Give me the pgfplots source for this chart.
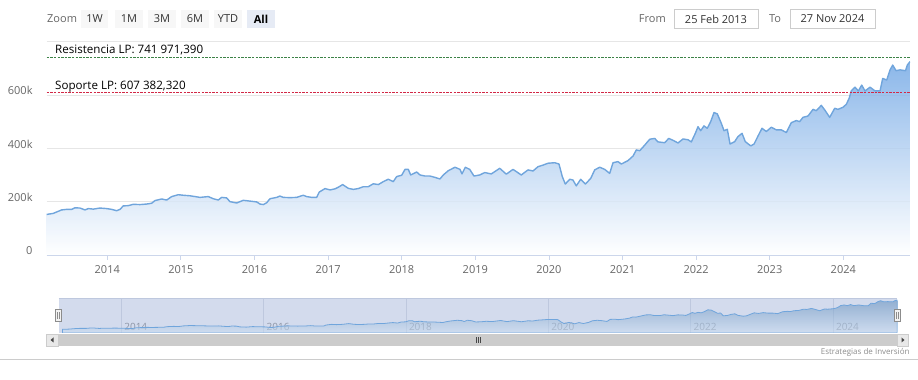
\documentclass[border=0pt]{standalone}
\usepackage{pgfplots}
\pgfplotsset{compat=1.18}
\usepackage{pgfplotstable}
\usepackage{fontspec}
\setmainfont{Open Sans}
\definecolor{linecol}{RGB}{112,165,220}
\definecolor{filltop}{RGB}{110,165,228}
\definecolor{fillbot}{RGB}{255,255,255}
\definecolor{gridc}{RGB}{230,230,230}
\definecolor{axisc}{RGB}{204,214,235}
\definecolor{labc}{RGB}{102,102,102}
\definecolor{txtc}{RGB}{51,51,51}
\definecolor{resc}{RGB}{60,130,70}
\definecolor{supc}{RGB}{210,40,70}
\definecolor{navbg}{RGB}{211,219,237}
\definecolor{navgrid}{RGB}{190,200,222}
\definecolor{navlab}{RGB}{140,148,165}
\definecolor{btn}{RGB}{247,247,247}
\definecolor{btnsel}{RGB}{230,235,245}
\definecolor{boxc}{RGB}{204,204,204}
\definecolor{trackc}{RGB}{242,242,242}
\definecolor{thumbc}{RGB}{204,204,204}
\definecolor{arrbtn}{RGB}{232,232,232}
\definecolor{arrc}{RGB}{70,70,70}
\definecolor{credc}{RGB}{140,140,140}
\pgfplotstableread{
x y
2013.177 152
2013.266 156
2013.380 169
2013.448 171
2013.516 171
2013.561 177
2013.629 176
2013.697 169
2013.742 174
2013.810 172
2013.901 176
2013.992 174
2014.060 171
2014.128 166
2014.173 171
2014.217 184
2014.285 185
2014.353 190
2014.444 189
2014.535 191
2014.603 194
2014.648 204
2014.739 210
2014.807 206
2014.875 219
2014.965 226
2015.033 224
2015.124 222
2015.192 219
2015.260 216
2015.372 219
2015.440 211
2015.508 206
2015.554 216
2015.622 214
2015.667 200
2015.758 195
2015.848 205
2015.939 202
2016.030 199
2016.075 191
2016.120 189
2016.166 196
2016.211 211
2016.302 216
2016.346 221
2016.391 216
2016.482 215
2016.573 216
2016.663 224
2016.709 219
2016.777 216
2016.845 216
2016.880 236
2016.958 249
2017.026 244
2017.094 248
2017.139 254
2017.198 264
2017.274 250
2017.342 246
2017.410 249
2017.478 256
2017.546 256
2017.614 267
2017.682 264
2017.750 275
2017.818 284
2017.886 275
2017.932 294
2018.000 299
2018.045 321
2018.090 321
2018.122 300
2018.204 311
2018.249 300
2018.317 296
2018.385 296
2018.452 291
2018.520 285
2018.565 300
2018.633 316
2018.724 329
2018.792 321
2018.819 304
2018.864 329
2018.924 321
2018.982 296
2019.060 300
2019.128 309
2019.217 304
2019.332 325
2019.421 303
2019.512 321
2019.625 300
2019.716 319
2019.784 315
2019.852 331
2019.920 337
2019.988 344
2020.079 346
2020.137 341
2020.182 294
2020.223 266
2020.283 284
2020.327 281
2020.372 259
2020.432 284
2020.495 266
2020.568 287
2020.622 319
2020.690 329
2020.758 321
2020.826 306
2020.871 346
2020.939 350
2020.984 341
2021.075 354
2021.143 371
2021.188 394
2021.234 391
2021.302 412
2021.370 434
2021.438 437
2021.482 424
2021.573 421
2021.628 437
2021.686 430
2021.754 420
2021.822 435
2021.890 432
2021.935 424
2021.989 456
2022.026 481
2022.062 466
2022.107 484
2022.152 475
2022.198 500
2022.243 534
2022.288 529
2022.342 494
2022.379 466
2022.424 471
2022.461 416
2022.524 425
2022.569 444
2022.624 456
2022.668 425
2022.742 409
2022.787 416
2022.841 446
2022.895 475
2022.954 463
2023.022 479
2023.090 469
2023.158 469
2023.226 459
2023.293 496
2023.361 504
2023.407 500
2023.452 516
2023.520 521
2023.588 546
2023.633 541
2023.701 561
2023.747 544
2023.815 516
2023.883 550
2023.928 546
2023.996 554
2024.041 565
2024.080 588
2024.109 616
2024.159 629
2024.204 615
2024.250 637
2024.295 615
2024.363 629
2024.431 615
2024.499 615
2024.535 662
2024.590 656
2024.635 694
2024.671 712
2024.716 691
2024.770 694
2024.845 691
2024.870 712
2024.906 725
}\data
\begin{document}
\begin{tikzpicture}[x=1pt,y=1pt]
\path[use as bounding box] (0,0) rectangle (918,380);
% ---------- range selector ----------
\begin{scope}[font=\fontsize{11}{13}\selectfont]
\node[anchor=west, text=labc, inner sep=0pt] at (47,361) {Zoom};
\foreach \a/\b/\t in {81/108/1W, 115/143/1M, 148/176/3M, 181/209/6M, 214/242/YTD} {
  \fill[btn] (\a,352) rectangle (\b,370);
  \node[text=txtc, inner sep=0pt] at ({(\a+\b)/2},361) {\t};
}
\fill[btnsel] (247,352) rectangle (275,370);
\node[text=black, inner sep=0pt, font=\fontsize{11}{13}\selectfont\bfseries] at (261,361) {All};
\node[anchor=east, text=labc, inner sep=0pt] at (666,361) {From};
\draw[boxc, fill=white, line width=0.8pt] (674,351.7) rectangle (758,370.7);
\node[text=txtc, inner sep=0pt] at (716,361) {25 Feb 2013};
\node[text=labc, inner sep=0pt] at (775,361) {To};
\draw[boxc, fill=white, line width=0.8pt] (790,351.7) rectangle (875,370.7);
\node[text=txtc, inner sep=0pt] at (832.5,361) {27 Nov 2024};
\end{scope}
% ---------- main chart ----------
\begin{axis}[
  at={(46.7pt,125pt)}, anchor=south west,
  scale only axis, width=863.3pt, height=215pt,
  xmin=2013.177, xmax=2024.906, ymin=0, ymax=806,
  axis lines*=left,
  x axis line style={draw=axisc, line width=0.8pt},
  y axis line style={draw=none},
  tick align=outside, major tick length=5pt,
  xtick={2014,2015,2016,2017,2018,2019,2020,2021,2022,2023,2024},
  xticklabels={2014,2015,2016,2017,2018,2019,2020,2021,2022,2023,2024},
  xtick style={draw=axisc, line width=0.8pt},
  xticklabel style={text=labc, font=\fontsize{11}{13}\selectfont, inner sep=0pt, yshift=-5pt},
  ytick={0,200,400,600,800},
  yticklabels={0,200k,400k,600k,{}},
  ytick style={draw=none},
  yticklabel style={text=labc, font=\fontsize{11}{13}\selectfont, anchor=east, inner sep=0pt, xshift=-9pt, yshift=4.4pt},
  ymajorgrids, grid style={gridc, line width=0.8pt},
]
\addplot[draw=none, top color=filltop, bottom color=fillbot, fill opacity=0.8, forget plot] table {\data} \closedcycle;
\addplot[draw=linecol, line width=1.4pt, line join=round] table {\data};
\addplot[draw=resc, dash pattern=on 2.4pt off 1.2pt, line width=1pt] coordinates {(2013.177,741.97139) (2024.906,741.97139)};
\addplot[draw=supc, dash pattern=on 2.4pt off 1.2pt, line width=1pt] coordinates {(2013.177,607.38232) (2024.906,607.38232)};
\node[anchor=base west, inner sep=0pt, font=\fontsize{11.6}{14}\selectfont, text=black] at (axis cs:2013.29,756) {Resistencia LP: 741 971,390};
\node[anchor=base west, inner sep=0pt, font=\fontsize{11.6}{14}\selectfont, text=black] at (axis cs:2013.29,621) {Soporte LP: 607 382,320};
\end{axis}
% ---------- navigator ----------
\begin{axis}[
  at={(58.5pt,47pt)}, anchor=south west,
  scale only axis, width=838.8pt, height=35pt,
  xmin=2013.12, xmax=2024.906, ymin=80, ymax=765,
  axis line style={draw=none},
  axis background/.style={fill=navbg},
  xtick={2014,2016,2018,2020,2022,2024},
  xticklabels={2014,2016,2018,2020,2022,2024},
  xmajorgrids, grid style={navgrid, line width=0.6pt},
  ytick=\empty, major tick length=0pt,
  xticklabel style={anchor=south west, inner sep=0pt, xshift=3pt, yshift=2.5pt, text=navlab, font=\fontsize{10}{12}\selectfont},
]
\addplot[draw=linecol, line width=0.8pt, top color=linecol!85!black, bottom color=linecol!35, fill opacity=0.55] table {\data} \closedcycle;
\end{axis}
\draw[navgrid, line width=0.6pt] (58.5,82) -- (897.3,82);
% handles
\foreach \h in {58.5,897.3} {
  \filldraw[fill=trackc, draw=black!45, line width=0.6pt] (\h-3,58.5) rectangle (\h+3,70.5);
  \draw[black!45, line width=0.5pt] (\h-1,61) -- (\h-1,68) (\h+1,61) -- (\h+1,68);
}
% scrollbar
\fill[trackc] (46,34) rectangle (908.7,46);
\fill[thumbc] (58.5,34) rectangle (897.3,46);
\filldraw[fill=arrbtn, draw=boxc, line width=0.5pt] (46,34) rectangle (58.5,46);
\filldraw[fill=arrbtn, draw=boxc, line width=0.5pt] (897.3,34) rectangle (908.7,46);
\fill[arrc] (50.5,40) -- (53.5,42.5) -- (53.5,37.5) -- cycle;
\fill[arrc] (904.5,40) -- (901.5,42.5) -- (901.5,37.5) -- cycle;
\draw[arrc, line width=0.6pt] (476,37) -- (476,43) (478,37) -- (478,43) (480,37) -- (480,43);
% footer
\draw[boxc, line width=0.8pt] (0,20.3) -- (918,20.3);
\node[anchor=east, inner sep=0pt, text=credc, font=\fontsize{8}{10}\selectfont] at (909.7,27.7) {Estrategias de Inversión};
\end{tikzpicture}
\end{document}
